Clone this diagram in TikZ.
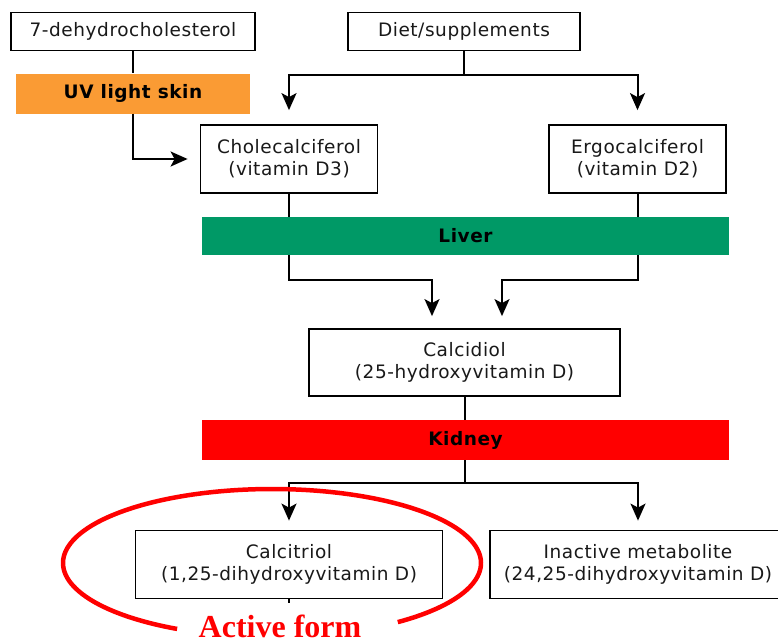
\documentclass[tikz,border=0pt]{standalone}
\usepackage{fontspec}
\setmainfont{DejaVu Sans}[LetterSpace=3]
\newfontfamily\timesfont{Liberation Serif}
\usetikzlibrary{arrows.meta}
\definecolor{uvorange}{RGB}{250,155,52}
\definecolor{livergreen}{RGB}{0,153,102}
\definecolor{kidneyred}{RGB}{255,0,0}
\definecolor{txtgray}{RGB}{25,25,25}
\begin{document}
\begin{tikzpicture}[x=1pt,y=-1pt,
  box/.style={draw=black, line width=1.8pt, fill=white, inner sep=0pt, align=center,
    text=txtgray, font=\fontsize{18.5}{22}\selectfont},
  band/.style={draw=none, inner sep=0pt, text=black, font=\fontsize{18.5}{22}\selectfont\bfseries},
  conn/.style={line width=2pt},
  arr/.style={conn, -{Stealth[length=17pt,width=15pt,inset=4pt]}}]
\useasboundingbox (0,0) rectangle (778,643);
\fill[white] (0,0) rectangle (778,643);
% nodes
\node[box, minimum width=244pt, minimum height=38pt] (dh) at (133,31.5) {7-dehydrocholesterol};
\node[box, minimum width=232pt, minimum height=38pt] (diet) at (464,31.5) {Diet/supplements};
\node[band, fill=uvorange, minimum width=234pt, minimum height=40pt] (uv) at (133,93.5) {UV light skin};
\node[box, minimum width=177pt, minimum height=68pt] (chole) at (289,159) {Cholecalciferol\\(vitamin D3)};
\node[box, minimum width=177pt, minimum height=68pt] (ergo) at (637.5,159) {Ergocalciferol\\(vitamin D2)};
\node[band, fill=livergreen, minimum width=527pt, minimum height=38pt] (liver) at (465.5,236) {Liver};
\node[box, minimum width=311pt, minimum height=67pt] (calc) at (464.5,362.5) {Calcidiol\\(25-hydroxyvitamin D)};
\node[band, fill=kidneyred, minimum width=527pt, minimum height=40pt] (kidney) at (465.5,440) {Kidney};
\node[box, minimum width=307pt, minimum height=68pt] (tri) at (289,564.5) {Calcitriol\\(1,25-dihydroxyvitamin D)};
\node[box, minimum width=296pt, minimum height=68pt] (inact) at (638,564.5) {Inactive metabolite\\(24,25-dihydroxyvitamin D)};
% junction coordinates
\coordinate (dj) at (464,75);
\coordinate (lj1) at (432,280);
\coordinate (lj2) at (502,280);
\coordinate (kj) at (464.5,483);
\coordinate (stub) at (289,603);
% connectors
\draw[conn] (dh.south) -- (uv.north);
\draw[arr, shorten >=12pt] (uv.south) |- (chole.west);
\draw[conn] (diet.south) -- (dj);
\draw[arr, shorten >=14pt] (dj) -| (chole.north);
\draw[arr, shorten >=14pt] (dj) -| (ergo.north);
\draw[conn] (chole.south) -- (chole.south |- liver.north);
\draw[conn] (ergo.south) -- (ergo.south |- liver.north);
\draw[arr, shorten >=12pt] (chole.south |- liver.south) |- (lj1) -- (lj1 |- calc.north);
\draw[arr, shorten >=12pt] (ergo.south |- liver.south) |- (lj2) -- (lj2 |- calc.north);
\draw[conn] (calc.south) -- (calc.south |- kidney.north);
\draw[conn] (calc.south |- kidney.south) -- (kj);
\draw[arr, shorten >=9pt] (kj) -| (tri.north);
\draw[arr, shorten >=9pt] (kj) -| (inact.north);
\draw[conn] (tri.south) -- (stub);
% highlight ellipse
\draw[kidneyred, line width=4.5pt] plot[domain=117:413, samples=140, smooth] ({272+209*cos(\x)},{563+74*sin(\x)});
\node[text=kidneyred, font=\timesfont\bfseries\fontsize{32}{32}\selectfont, anchor=base, inner sep=0pt, text depth=0pt] (active) at (280,637) {Active form};
\end{tikzpicture}
\end{document}
